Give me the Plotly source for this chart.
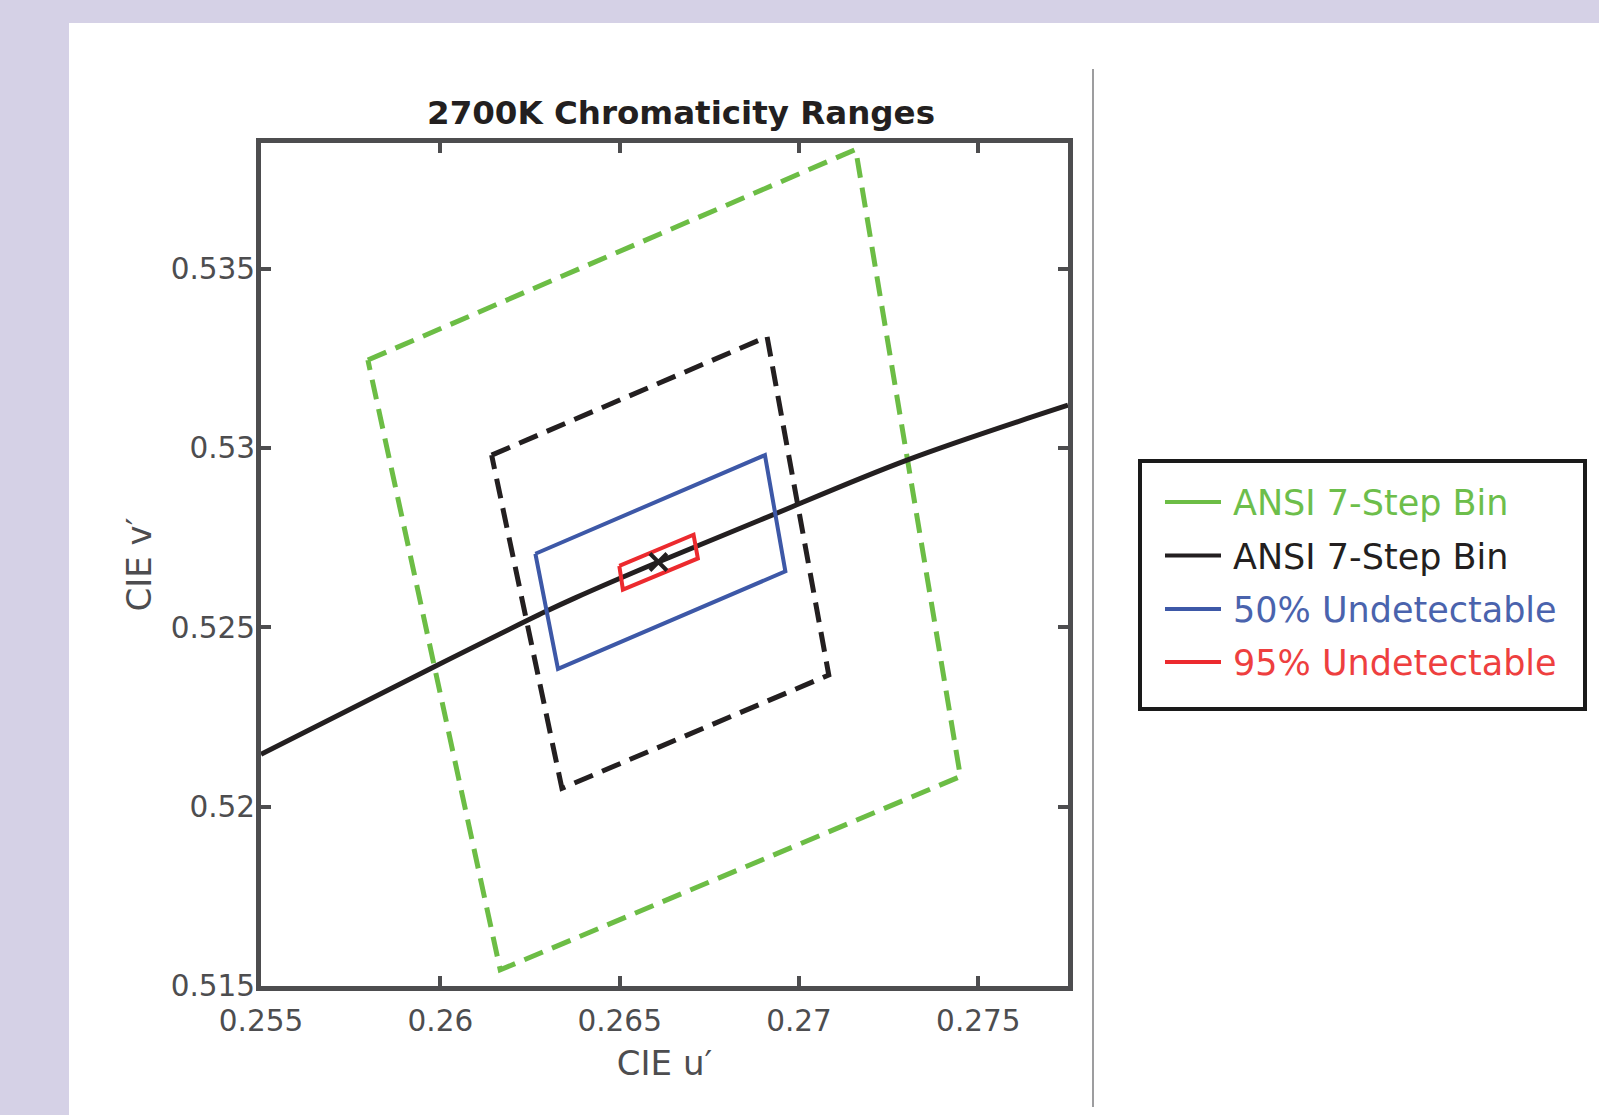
import plotly.graph_objects as go

# ---------------- data ----------------
green_u = [0.25798, 0.27158, 0.27450, 0.26167]
green_v = [0.53245, 0.53832, 0.52084, 0.51545]

black_u = [0.26143, 0.26911, 0.27083, 0.26339]
black_v = [0.52980, 0.53310, 0.52367, 0.52051]

blue_u = [0.26265, 0.26905, 0.26962, 0.26328]
blue_v = [0.52705, 0.52980, 0.52656, 0.52384]

red_u = [0.26499, 0.26706, 0.26718, 0.26509]
red_v = [0.52671, 0.52758, 0.52692, 0.52605]

locus_u = [0.2550, 0.25983, 0.26292, 0.26376, 0.26608, 0.26892, 0.27301, 0.2775]
locus_v = [0.52146, 0.52390, 0.52543, 0.52582, 0.52682, 0.52799, 0.52966, 0.53119]

center_u = [0.26608]
center_v = [0.52682]

legend_names = ["ANSI 7-Step Bin", "ANSI 7-Step Bin", "50% Undetectable", "95% Undetectable"]

x_ticks = [0.255, 0.26, 0.265, 0.27, 0.275]
x_ticktext = ["0.255", "0.26", "0.265", "0.27", "0.275"]
y_ticks = [0.515, 0.52, 0.525, 0.53, 0.535]
y_ticktext = ["0.515", "0.52", "0.525", "0.53", "0.535"]

# ---------------- styles ----------------
GREEN = "#6cbd45"
BLACK = "#231f20"
BLUE = "#3d58a7"
RED = "#ec2a2e"
LEG_GREEN = "#6dbe4b"
LEG_BLUE = "#4a63ad"
LEG_RED = "#ee3f3f"
AXIS = "#4d4d4f"
FONT = "DejaVu Sans"


def closed(a):
    return list(a) + [a[0]]


fig = go.Figure()

fig.add_trace(go.Scatter(x=closed(green_u), y=closed(green_v), mode="lines",
                         line=dict(color=GREEN, width=5, dash="20px,10px"),
                         name=legend_names[0], showlegend=False, hoverinfo="skip"))
fig.add_trace(go.Scatter(x=closed(black_u), y=closed(black_v), mode="lines",
                         line=dict(color=BLACK, width=5, dash="20px,10px"),
                         name=legend_names[1], showlegend=False, hoverinfo="skip"))
fig.add_trace(go.Scatter(x=locus_u, y=locus_v, mode="lines", line_shape="spline",
                         line=dict(color=BLACK, width=5),
                         showlegend=False, hoverinfo="skip"))
fig.add_trace(go.Scatter(x=closed(blue_u), y=closed(blue_v), mode="lines",
                         line=dict(color=BLUE, width=4),
                         name=legend_names[2], showlegend=False, hoverinfo="skip"))
fig.add_trace(go.Scatter(x=closed(red_u), y=closed(red_v), mode="lines",
                         line=dict(color=RED, width=4),
                         name=legend_names[3], showlegend=False, hoverinfo="skip"))
fig.add_trace(go.Scatter(x=center_u, y=center_v, mode="markers",
                         marker=dict(symbol="x-thin", size=17,
                                     line=dict(color=BLACK, width=4)),
                         showlegend=False, hoverinfo="skip"))

W, H = 1599, 1115
L, R, T, B = 261, 1068, 143, 986
pw, ph = R - L, B - T


def px(x):
    return (x - L) / pw


def py(y):
    return (B - y) / ph


LAV = "#d5d1e6"
shapes = [
    # lavender frame (top band and left band)
    dict(type="rect", xref="paper", yref="paper", x0=px(0), x1=px(W), y0=py(23), y1=py(0),
         fillcolor=LAV, line_width=0, layer="below"),
    dict(type="rect", xref="paper", yref="paper", x0=px(0), x1=px(69), y0=py(H), y1=py(0),
         fillcolor=LAV, line_width=0, layer="below"),
    # thin grey divider
    dict(type="line", xref="paper", yref="paper", x0=px(1093), x1=px(1093), y0=py(69), y1=py(1107),
         line=dict(color="#9d9d9f", width=2)),
    # legend box
    dict(type="rect", xref="paper", yref="paper", x0=px(1140), x1=px(1585), y0=py(709), y1=py(461),
         fillcolor="white", line=dict(color="#1a1a1a", width=4)),
]

annotations = []
leg_line_cols = [GREEN, BLACK, BLUE, RED]
leg_text_cols = [LEG_GREEN, BLACK, LEG_BLUE, LEG_RED]
row_y = [502, 555.5, 609, 662]
for nm, lc, tc, yy in zip(legend_names, leg_line_cols, leg_text_cols, row_y):
    shapes.append(dict(type="line", xref="paper", yref="paper",
                       x0=px(1165), x1=px(1221), y0=py(yy), y1=py(yy),
                       line=dict(color=lc, width=4)))
    annotations.append(dict(text=nm, xref="paper", yref="paper", x=px(1231), y=py(yy + 1),
                            xanchor="left", yanchor="middle", showarrow=False,
                            font=dict(family=FONT, size=35, color=tc)))

axis_common = dict(
    showline=True, linecolor=AXIS, linewidth=5, mirror="allticks",
    ticks="inside", ticklen=10, tickwidth=4, tickcolor=AXIS,
    showgrid=False, zeroline=False,
    tickfont=dict(family=FONT, size=29.5, color=AXIS),
)

fig.update_layout(
    width=W, height=H,
    margin=dict(l=L, r=W - R, t=T, b=H - B),
    paper_bgcolor="white", plot_bgcolor="white",
    shapes=shapes, annotations=annotations,
    xaxis=dict(range=[0.255, 0.2775], tickvals=x_ticks, ticktext=x_ticktext,
               title=dict(text="CIE u′", font=dict(family=FONT, size=34, color=AXIS), standoff=15),
               ticklabelstandoff=5, **axis_common),
    yaxis=dict(range=[0.515, 0.5385], tickvals=y_ticks, ticktext=y_ticktext,
               title=dict(text="CIE v′", font=dict(family=FONT, size=34, color=AXIS), standoff=10),
               ticklabelstandoff=-5, **axis_common),
    title=dict(text="2700K Chromaticity Ranges", x=px(681), xref="paper",
               xanchor="center", y=1 - 113 / H, yref="container", yanchor="middle",
               font=dict(family=FONT, size=32.5, color=BLACK, weight="bold")),
    showlegend=False,
)

fig.write_html("out.html")
